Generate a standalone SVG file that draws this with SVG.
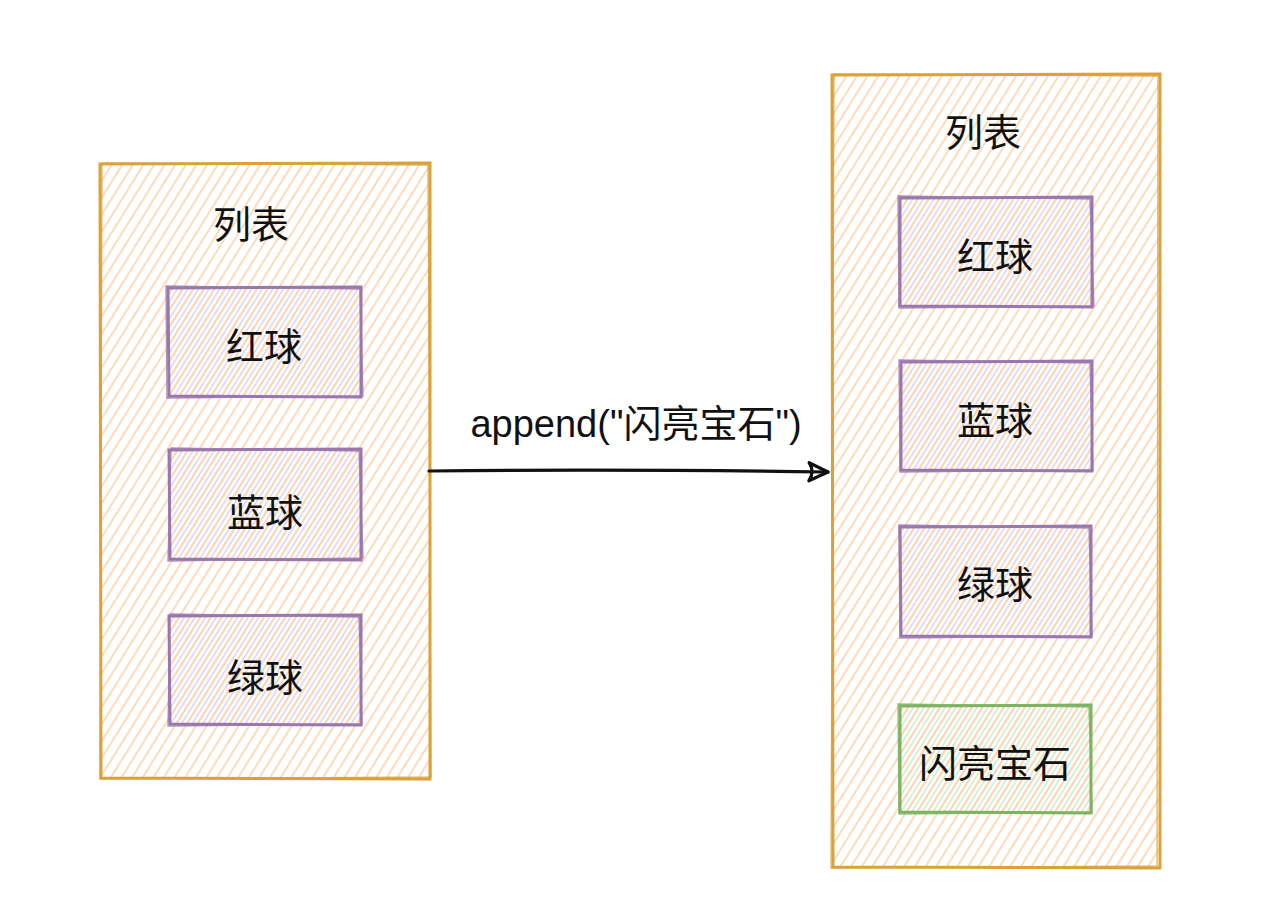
<svg xmlns="http://www.w3.org/2000/svg" width="1283" height="902" viewBox="0 0 1283 902">
<defs>
<pattern id="hatchOrange" width="9" height="9" patternUnits="userSpaceOnUse" patternTransform="rotate(32)">
<line x1="2" y1="0" x2="2" y2="9" stroke="#fbd6b0" stroke-width="1.7"/>
</pattern>
<pattern id="hatchPurple" width="9" height="9" patternUnits="userSpaceOnUse" patternTransform="rotate(32)">
<line x1="2" y1="0" x2="2" y2="9" stroke="#fbd6b0" stroke-width="1.5"/>
<line x1="6.5" y1="0" x2="6.5" y2="9" stroke="#d9cdef" stroke-width="1.5"/>
</pattern>
<pattern id="hatchGreen" width="9" height="9" patternUnits="userSpaceOnUse" patternTransform="rotate(32)">
<line x1="2" y1="0" x2="2" y2="9" stroke="#fbd6b0" stroke-width="1.5"/>
<line x1="6.5" y1="0" x2="6.5" y2="9" stroke="#cbe6cb" stroke-width="1.5"/>
</pattern>
<marker id="arrow" markerWidth="28" markerHeight="24" refX="24" refY="12" orient="auto" markerUnits="userSpaceOnUse">
<path d="M5,3 L24,12 L5,21 Q11,12 5,3" fill="none" stroke="#111" stroke-width="3.2" stroke-linejoin="round" stroke-linecap="round"/>
</marker>
</defs>
<style>
.txt{font-family:"Liberation Sans","Noto Sans CJK SC",sans-serif;font-size:38px;fill:#111;text-anchor:middle;dominant-baseline:central}
.cont{fill:url(#hatchOrange);stroke:#d9a23a;stroke-width:3}
.cont2{fill:none;stroke:#d9a23a;stroke-width:1.3;opacity:0.8}
.pbox{fill:url(#hatchPurple);stroke:#9a77ad;stroke-width:3}
.pbox2{fill:none;stroke:#9a77ad;stroke-width:1.4;opacity:0.8}
.gbox{fill:url(#hatchGreen);stroke:#7db362;stroke-width:3}
.gbox2{fill:none;stroke:#7db362;stroke-width:1.4;opacity:0.8}
</style>
<rect width="1283" height="902" fill="#ffffff"/>

<g id="left-list">
<path class="cont" d="M100,164 L430,163 L430,779 L101,778 Z"/>
<path class="cont2" d="M102,163 L428,165 L431,777 L100,779 Z"/>
<text class="txt" x="251" y="225">列表</text>
</g>
<g id="left-red">
<path class="pbox" d="M168,288 L361,287 L361,397 L169,396 Z"/>
<path class="pbox2" d="M166,286 L360,289 L363,396 L167,398 Z"/>
<text class="txt" x="264" y="347">红球</text>
</g>
<g id="left-blue">
<path class="pbox" d="M169,450 L361,449 L361,560 L170,559 Z"/>
<path class="pbox2" d="M171,448 L359,451 L363,558 L168,561 Z"/>
<text class="txt" x="265" y="513">蓝球</text>
</g>
<g id="left-green">
<path class="pbox" d="M169,616 L361,615 L361,725 L170,724 Z"/>
<path class="pbox2" d="M170,614 L359,617 L362,724 L168,726 Z"/>
<text class="txt" x="265" y="678">绿球</text>
</g>

<g id="right-list">
<path class="cont" d="M832,75 L1160,74 L1160,868 L833,867 Z"/>
<path class="cont2" d="M834,74 L1158,76 L1157,866 L831,868 Z"/>
<text class="txt" x="983" y="133">列表</text>
</g>
<g id="right-red">
<path class="pbox" d="M900,198 L1092,197 L1092,307 L900,306 Z"/>
<path class="pbox2" d="M898,196 L1090,199 L1094,306 L899,308 Z"/>
<text class="txt" x="995" y="257">红球</text>
</g>
<g id="right-blue">
<path class="pbox" d="M901,362 L1092,361 L1092,471 L901,470 Z"/>
<path class="pbox2" d="M899,360 L1090,363 L1093,470 L900,472 Z"/>
<text class="txt" x="995" y="421">蓝球</text>
</g>
<g id="right-green">
<path class="pbox" d="M900,527 L1091,526 L1091,637 L901,636 Z"/>
<path class="pbox2" d="M899,525 L1089,528 L1092,636 L900,638 Z"/>
<text class="txt" x="995" y="585">绿球</text>
</g>
<g id="right-gem">
<path class="gbox" d="M900,706 L1091,705 L1091,813 L900,812 Z"/>
<path class="gbox2" d="M898,704 L1089,707 L1092,812 L899,814 Z"/>
<text class="txt" x="995" y="764">闪亮宝石</text>
</g>

<g id="connectors">
<path d="M429,471 Q620,469 828,472" fill="none" stroke="#111" stroke-width="3.2" stroke-linecap="round" marker-end="url(#arrow)"/>
<text class="txt" x="636" y="424">append("闪亮宝石")</text>
</g>
</svg>
